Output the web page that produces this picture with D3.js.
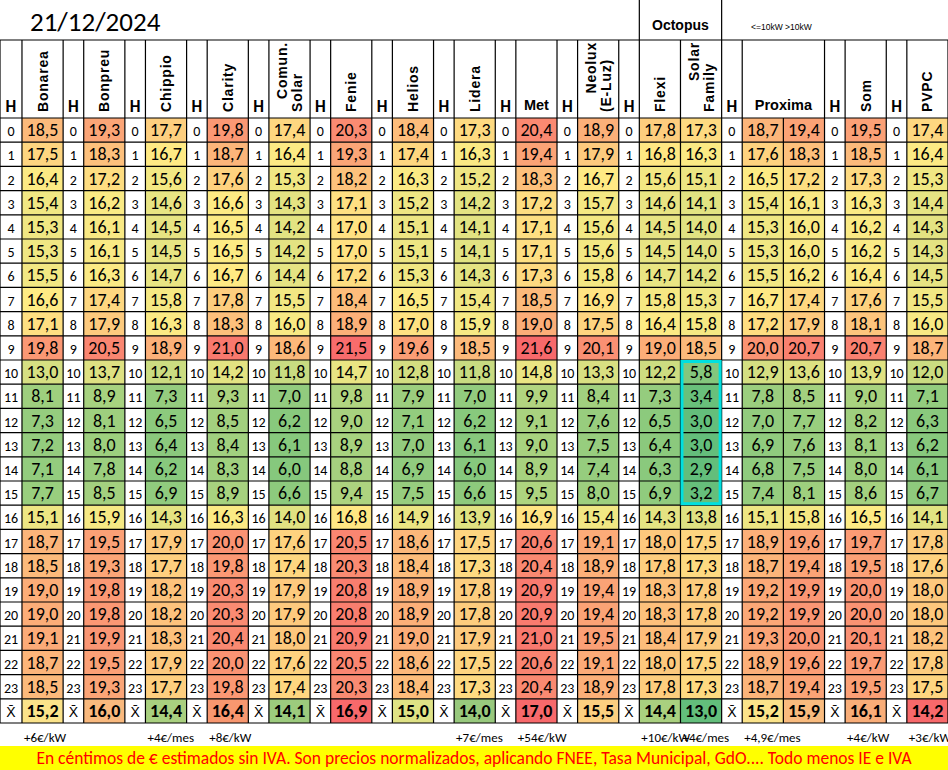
<!DOCTYPE html>
<html>
<head>
<meta charset="utf-8">
<script src="https://cdn.jsdelivr.net/npm/d3@7"></script>
<style>
  body { margin: 0; background: #fff; }
  text { font-family: Carlito, "Liberation Sans Narrow", Arial, sans-serif; }
</style>
</head>
<body>
<div id="chart"></div>
<script>
// Data
let title = "21/12/2024";
let suppliers = ["Bonarea", "Bonpreu", "Chippio", "Clarity", "Comun.|Solar", "Fenie", "Helios", "Lidera", "Met", "Neolux|(E-Luz)", "Flexi", "Solar|Family", "Proxima", "", "Som", "PVPC"];
let hours = d3.range(24);
let prices = [
  [18.5,19.3,17.7,19.8,17.4,20.3,18.4,17.3,20.4,18.9,17.8,17.3,18.7,19.4,19.5,17.4],
  [17.5,18.3,16.7,18.7,16.4,19.3,17.4,16.3,19.4,17.9,16.8,16.3,17.6,18.3,18.5,16.4],
  [16.4,17.2,15.6,17.6,15.3,18.2,16.3,15.2,18.3,16.7,15.6,15.1,16.5,17.2,17.3,15.3],
  [15.4,16.2,14.6,16.6,14.3,17.1,15.2,14.2,17.2,15.7,14.6,14.1,15.4,16.1,16.3,14.4],
  [15.3,16.1,14.5,16.5,14.2,17.0,15.1,14.1,17.1,15.6,14.5,14.0,15.3,16.0,16.2,14.3],
  [15.3,16.1,14.5,16.5,14.2,17.0,15.1,14.1,17.1,15.6,14.5,14.0,15.3,16.0,16.2,14.3],
  [15.5,16.3,14.7,16.7,14.4,17.2,15.3,14.3,17.3,15.8,14.7,14.2,15.5,16.2,16.4,14.5],
  [16.6,17.4,15.8,17.8,15.5,18.4,16.5,15.4,18.5,16.9,15.8,15.3,16.7,17.4,17.6,15.5],
  [17.1,17.9,16.3,18.3,16.0,18.9,17.0,15.9,19.0,17.5,16.4,15.8,17.2,17.9,18.1,16.0],
  [19.8,20.5,18.9,21.0,18.6,21.5,19.6,18.5,21.6,20.1,19.0,18.5,20.0,20.7,20.7,18.7],
  [13.0,13.7,12.1,14.2,11.8,14.7,12.8,11.8,14.8,13.3,12.2,5.8,12.9,13.6,13.9,12.0],
  [8.1,8.9,7.3,9.3,7.0,9.8,7.9,7.0,9.9,8.4,7.3,3.4,7.8,8.5,9.0,7.1],
  [7.3,8.1,6.5,8.5,6.2,9.0,7.1,6.2,9.1,7.6,6.5,3.0,7.0,7.7,8.2,6.3],
  [7.2,8.0,6.4,8.4,6.1,8.9,7.0,6.1,9.0,7.5,6.4,3.0,6.9,7.6,8.1,6.2],
  [7.1,7.8,6.2,8.3,6.0,8.8,6.9,6.0,8.9,7.4,6.3,2.9,6.8,7.5,8.0,6.1],
  [7.7,8.5,6.9,8.9,6.6,9.4,7.5,6.6,9.5,8.0,6.9,3.2,7.4,8.1,8.6,6.7],
  [15.1,15.9,14.3,16.3,14.0,16.8,14.9,13.9,16.9,15.4,14.3,13.8,15.1,15.8,16.5,14.1],
  [18.7,19.5,17.9,20.0,17.6,20.5,18.6,17.5,20.6,19.1,18.0,17.5,18.9,19.6,19.7,17.8],
  [18.5,19.3,17.7,19.8,17.4,20.3,18.4,17.3,20.4,18.9,17.8,17.3,18.7,19.4,19.5,17.6],
  [19.0,19.8,18.2,20.3,17.9,20.8,18.9,17.8,20.9,19.4,18.3,17.8,19.2,19.9,20.0,18.0],
  [19.0,19.8,18.2,20.3,17.9,20.8,18.9,17.8,20.9,19.4,18.3,17.8,19.2,19.9,20.0,18.0],
  [19.1,19.9,18.3,20.4,18.0,20.9,19.0,17.9,21.0,19.5,18.4,17.9,19.3,20.0,20.1,18.2],
  [18.7,19.5,17.9,20.0,17.6,20.5,18.6,17.5,20.6,19.1,18.0,17.5,18.9,19.6,19.7,17.8],
  [18.5,19.3,17.7,19.8,17.4,20.3,18.4,17.3,20.4,18.9,17.8,17.3,18.7,19.4,19.5,17.5]
];
let averages = [15.2,16.0,14.4,16.4,14.1,16.9,15.0,14.0,17.0,15.5,14.4,13.0,15.2,15.9,16.1,14.2];
let averageColors = ["#fbe38a","#f9b97e","#a9d07f","#f8976f","#9ccb7d","#f8696b","#dfe285","#98c97d","#f8696b","#fccf80","#a9d07f","#63be7b","#fbe38a","#f9bb7e","#f9ad78","#f8696b"];
let extras = ["+6€/kW","","+4€/mes","+8€/kW","","","","+7€/mes","+54€/kW","","+10€/kW","+4€/mes","+4,9€/mes","","+4€/kW","+3€/kW"];
let note = "En céntimos de € estimados sin IVA. Son precios normalizados, aplicando FNEE, Tasa Municipal, GdO.... Todo menos IE e IVA";

// Layout: column sequence, H = hour column, number = supplier index
let layout = ["H",0,"H",1,"H",2,"H",3,"H",4,"H",5,"H",6,"H",7,"H",8,"H",9,"H",10,11,"H",12,13,"H",14,"H",15];
let colWidths = layout.map((c, i) => c === "H" ? (i === 0 ? 22 : 20.6) : 41.2);
let colX = [];
let acc = 0;
colWidths.forEach(w => { colX.push(acc); acc += w; });
let scaleX = d3.scaleLinear().domain([0, acc]).range([0, 948]);

let headerTop = 40, headerBottom = 118, rowH = 24.2;
let y = d3.scaleBand().domain(d3.range(25)).range([headerBottom, headerBottom + 25 * rowH]);

let svg = d3.select("#chart").append("svg").attr("width", 948).attr("height", 770);

// one colour scale over the whole table (green - yellow - red)
let all = prices.flat();
let color = d3.scaleLinear()
  .domain([d3.min(all), d3.quantile(all.slice().sort(d3.ascending), 0.5), d3.max(all)])
  .range(["#63be7b", "#ffeb84", "#f8696b"]);

// title
svg.append("text").attr("x", 30).attr("y", 31).attr("font-size", 27).text(title);
svg.append("text").attr("x", 652).attr("y", 30).attr("font-size", 14).attr("font-weight", "bold")
  .style("font-family", "Arial").text("Octopus");
svg.append("text").attr("x", 751).attr("y", 30).attr("font-size", 8.5)
  .style("font-family", "Arial").text("<=10kW  >10kW");

let cells = svg.append("g");
layout.forEach((c, i) => {
  let x0 = scaleX(colX[i]), w = scaleX(colX[i] + colWidths[i]) - x0;
  // header
  if (c === "H") {
    svg.append("text").attr("x", x0 + w / 2).attr("y", headerBottom - 6)
      .attr("text-anchor", "middle").attr("font-size", 17).attr("font-weight", "bold").text("H");
  } else if (suppliers[c] === "Met" || suppliers[c] === "Proxima") {
    svg.append("text").attr("x", suppliers[c] === "Proxima" ? x0 + w : x0 + w / 2).attr("y", headerBottom - 8)
      .attr("text-anchor", "middle").attr("font-size", 14.5).attr("font-weight", "bold")
      .style("font-family", "Arial").text(suppliers[c]);
  } else if (suppliers[c] !== "") {
    let lines = suppliers[c].split("|");
    lines.forEach((ln, k) => {
      let cx = x0 + w / 2 + (k - (lines.length - 1) / 2) * 15 + 5;
      svg.append("text")
        .attr("transform", `translate(${cx}, ${headerBottom - 6}) rotate(-90)`)
        .attr("text-anchor", lines.length > 1 ? (k === 0 ? "end" : "start") : "start")
        .attr("dx", lines.length > 1 ? (k === 0 ? 70 : 0) : 0)
        .attr("font-size", 14).attr("font-weight", "bold").attr("letter-spacing", 0.8)
        .style("font-family", "Arial").text(ln);
    });
  }
  // body
  d3.range(25).forEach(r => {
    let isAvg = r === 24;
    let fill = "#fff", label;
    if (c === "H") {
      label = isAvg ? "X\u0304" : hours[r];
    } else {
      let v = isAvg ? averages[c] : prices[r][c];
      fill = isAvg ? averageColors[c] : color(v);
      label = v.toFixed(1).replace(".", ",");
    }
    cells.append("rect").attr("x", x0).attr("y", y(r)).attr("width", w).attr("height", y.bandwidth())
      .attr("fill", fill);
    cells.append("text").attr("x", x0 + w / 2).attr("y", y(r) + y.bandwidth() / 2 + 6)
      .attr("text-anchor", "middle")
      .attr("font-size", c === "H" ? 14 : 18)
      .attr("font-weight", isAvg && c !== "H" ? "bold" : "normal")
      .text(label);
  });
  if (c !== "H" && extras[c]) {
    svg.append("text").attr("x", x0 + 2).attr("y", y(24) + y.bandwidth() + 19)
      .attr("font-size", 13).text(extras[c]);
  }
});

// grid lines
let tableBottom = y(24) + y.bandwidth();
let grid = svg.append("g").attr("stroke", "#000").attr("stroke-width", 1.2);
colX.concat([acc]).forEach((cx, i) => {
  if (layout[i] === 13) return; // Proxima header spans both columns
  grid.append("line").attr("x1", scaleX(cx)).attr("x2", scaleX(cx))
    .attr("y1", headerTop).attr("y2", tableBottom);
});
grid.append("line").attr("x1", scaleX(colX[layout.indexOf(13)])).attr("x2", scaleX(colX[layout.indexOf(13)]))
  .attr("y1", headerBottom).attr("y2", tableBottom);
[10, 11].forEach(s => {
  let i = layout.indexOf(s);
  let xx = s === 10 ? scaleX(colX[i]) : scaleX(colX[i] + colWidths[i]);
  grid.append("line").attr("x1", xx).attr("x2", xx).attr("y1", 0).attr("y2", headerTop);
});
grid.append("line").attr("x1", 0).attr("x2", 948).attr("y1", headerTop).attr("y2", headerTop);
d3.range(26).forEach(r => {
  let yy = r === 25 ? tableBottom : y(r);
  grid.append("line").attr("x1", 0).attr("x2", 948).attr("y1", yy).attr("y2", yy);
});

// highlight Solar Family midday
let sf = layout.indexOf(11);
svg.append("rect").attr("x", scaleX(colX[sf]) + 1.5).attr("y", y(10) + 1.5)
  .attr("width", scaleX(colWidths[sf]) - 3).attr("height", y(16) - y(10) - 3)
  .attr("fill", "none").attr("stroke", "#00e0e0").attr("stroke-width", 3);

// note banner
svg.append("rect").attr("x", 0).attr("y", 746).attr("width", 948).attr("height", 24).attr("fill", "#ffff00");
svg.append("text").attr("x", 474).attr("y", 764).attr("text-anchor", "middle")
  .attr("font-size", 17.5).attr("fill", "#ff0000").text(note);
</script>
</body>
</html>
